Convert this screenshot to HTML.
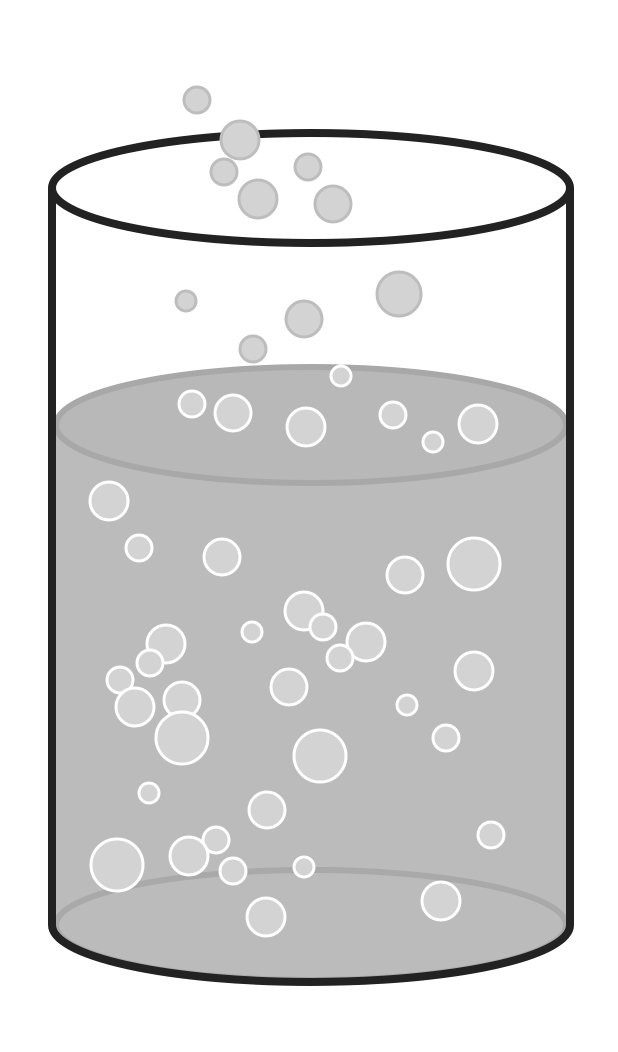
<!DOCTYPE html>
<html><head><meta charset="utf-8"><style>html,body{margin:0;padding:0;background:#fff}svg{display:block}</style></head>
<body>
<svg width="618" height="1052" viewBox="0 0 618 1052">
  <g>
    <rect x="56" y="425" width="510" height="500" fill="#bbbbbb"/>
    <ellipse cx="311" cy="925" rx="255" ry="55" fill="#bbbbbb" stroke="#a9a9a9" stroke-width="6"/>
    <rect x="56" y="870" width="510" height="55" fill="#bbbbbb"/>
    <path d="M56 925 A255 55 0 0 1 566 925" fill="none" stroke="#a9a9a9" stroke-width="6"/>
    <ellipse cx="311" cy="425" rx="255" ry="58" fill="#b8b8b8" stroke="#a8a8a8" stroke-width="6"/>
  </g>
  <g fill="none" stroke="#222" stroke-width="8">
    <path d="M52 188 L52 925 A259 57 0 0 0 570 925 L570 188"/>
    <ellipse cx="311" cy="188" rx="259" ry="55"/>
  </g>
  <g id="above" fill="#d3d3d3" stroke="#bdbdbd" stroke-width="3"></g>
  <g id="inside" fill="#d3d3d3" stroke="#ffffff" stroke-width="3"></g>
</svg>
<script>
const above=[[197,100,13],[240,140,19],[224,172,13],[308,167,13],[258,199,19],[333,204,18],[186,301,10],[304,319,18],[399,294,22],[253,349,13]];
const inside=[[341,376,10],[192,404,13],[233,413,18],[306,427,19],[393,415,13],[478,424,19],[433,442,10],[109,501,19],[139,548,13],[222,557,18],[405,575,18],[474,564,26],[304,611,19],[323,627,13],[252,632,10],[366,642,19],[166,644,19],[340,658,13],[150,663,13],[120,680,13],[474,671,19],[289,687,18],[182,700,18],[135,707,19],[182,738,26],[407,705,10],[320,756,26],[446,738,13],[149,793,10],[267,810,18],[216,840,13],[491,835,13],[117,865,26],[189,856,19],[233,871,13],[304,867,10],[441,901,19],[266,917,19]];
function draw(id,list){
  const g=document.getElementById(id);
  list.forEach(b=>{
    const c=document.createElementNS('http://www.w3.org/2000/svg','circle');
    c.setAttribute('cx',b[0]);c.setAttribute('cy',b[1]);c.setAttribute('r',b[2]);
    
    
    g.appendChild(c);
  });
}
draw('above',above);draw('inside',inside);
</script>
</body></html>
